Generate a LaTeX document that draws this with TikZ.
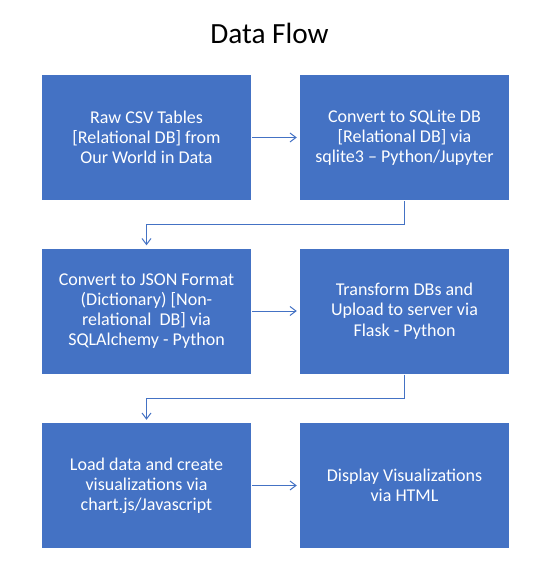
\documentclass[tikz,border=0pt]{standalone}
\usepackage{fontspec}
\setmainfont{Carlito}
\usetikzlibrary{arrows.meta}
\definecolor{officeblue}{HTML}{4472C4}
\tikzset{
  box/.style={rectangle, fill=officeblue, draw=none, text=white, align=center,
    minimum width=209pt, minimum height=125pt, inner sep=0pt,
    font=\fontsize{18}{20.2}\selectfont},
  arr/.style={draw=officeblue, line width=1pt, -{Straight Barb[length=6pt,width=9pt,line width=1pt]}},
  titletext/.style={font=\fontsize{29.3}{34}\selectfont, text=black, inner sep=0pt}
}
\begin{document}
\begin{tikzpicture}[x=1pt,y=-1pt]
\useasboundingbox (0,0) rectangle (550,576);
\node[titletext, anchor=base] (title) at (269.5,43) {Data Flow};
\node[box] (a) at (146.5,137.5) {Raw CSV Tables\\{[}Relational DB{]} from\\Our World in Data};
\node[box] (b) at (404.5,137.5) {Convert to SQLite DB\\{[}Relational DB{]} via\\sqlite3 – Python/Jupyter};
\node[box] (c) at (146.5,311) {Convert to JSON Format\\(Dictionary) {[}Non-\\relational\ \ DB{]} via\\SQLAlchemy - Python};
\node[box] (d) at (404.5,311) {Transform DBs and\\Upload to server via\\Flask - Python};
\node[box] (e) at (146.5,485.5) {Load data and create\\visualizations via\\chart.js/Javascript};
\node[box] (f) at (404.5,485.5) {Display Visualizations\\via HTML};
\draw[arr] ([xshift=1pt]a.east) -- ([xshift=-3pt]b.west);
\draw[arr] ([xshift=1pt]c.east) -- ([xshift=-3pt]d.west);
\draw[arr] ([xshift=1pt]e.east) -- ([xshift=-3pt]f.west);
\draw[arr] ([yshift=-1pt]b.south) -- ++(0,23.5) -| ([yshift=3pt]c.north);
\draw[arr] ([yshift=-1pt]d.south) -- ++(0,24) -| ([yshift=3pt]e.north);
\end{tikzpicture}
\end{document}
